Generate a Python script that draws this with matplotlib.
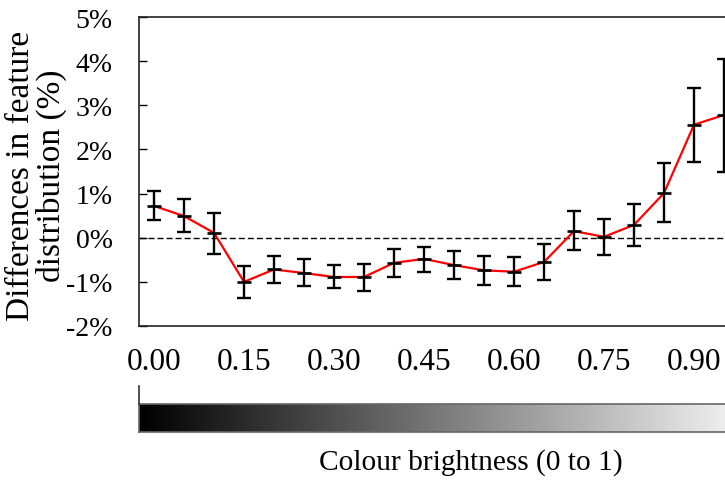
import numpy as np
import matplotlib
matplotlib.use("Agg")
import matplotlib.pyplot as plt
from matplotlib.lines import Line2D

plt.rcParams["font.family"] = ["Liberation Serif", "DejaVu Serif"]
plt.rcParams["font.size"] = 18

# brightness bins and differences (%) with error bar ends
brightness = [0.00, 0.05, 0.10, 0.15, 0.20, 0.25, 0.30, 0.35, 0.40, 0.45,
              0.50, 0.55, 0.60, 0.65, 0.70, 0.75, 0.80, 0.85, 0.90, 0.95]
diff = [0.72, 0.49, 0.11, -1.00, -0.72, -0.80, -0.89, -0.89, -0.57, -0.48,
        -0.62, -0.74, -0.77, -0.55, 0.15, 0.02, 0.29, 1.01, 2.56, 2.78]
err_low = [0.39, 0.14, -0.36, -1.37, -1.02, -1.10, -1.15, -1.21, -0.89, -0.77,
           -0.93, -1.07, -1.10, -0.96, -0.27, -0.39, -0.19, 0.36, 1.71, 1.48]
err_high = [1.05, 0.87, 0.55, -0.65, -0.41, -0.49, -0.62, -0.60, -0.26, -0.21,
            -0.31, -0.41, -0.44, -0.14, 0.60, 0.42, 0.76, 1.69, 3.39, 4.05]

xtick_vals = [0.00, 0.15, 0.30, 0.45, 0.60, 0.75, 0.90]
xtick_labels = ["0.00", "0.15", "0.30", "0.45", "0.60", "0.75", "0.90"]
ytick_vals = [-2, -1, 0, 1, 2, 3, 4, 5]
ytick_labels = ["-2%", "-1%", "0%", "1%", "2%", "3%", "4%", "5%"]

W, H = 725, 481
fig = plt.figure(figsize=(W / 100, H / 100), dpi=100)

# main axes runs past the right edge of the picture (cropped like the reference)
left, right = 139, 769
ax = fig.add_axes([left / W, (H - 327) / H, (right - left) / W, (327 - 18) / H])

x = np.array(brightness)
y = np.array(diff)
yerr = [y - np.array(err_low), np.array(err_high) - y]

ax.axhline(0, color="black", linestyle=(0, (4.3, 2.2)), linewidth=1.0, zorder=1)
ax.plot(x, y, color="red", linewidth=1.6, zorder=2)
ax.errorbar(x, y, yerr=yerr, fmt="none", ecolor="black", elinewidth=1.7,
            capsize=5, capthick=1.7, zorder=3)
ax.plot(x, y, linestyle="none", marker="_", markersize=10,
        markeredgewidth=1.9, color="black", zorder=4)

ax.set_xlim(-0.025, 1.025)
ax.set_ylim(-2, 5)
ax.set_xticks(xtick_vals)
ax.set_xticklabels(xtick_labels, fontsize=22.5)
ax.set_yticks(ytick_vals)
ax.set_yticklabels(ytick_labels, fontsize=20)
ax.tick_params(axis="x", length=0, pad=15)
ax.tick_params(axis="y", direction="in", length=6, width=1.0, pad=19)
for s in ax.spines.values():
    s.set_linewidth(1.2)
    s.set_color("#222222")

ax.set_ylabel("Differences in feature\ndistribution (%)", fontsize=24,
              linespacing=0.98)
ax.yaxis.set_label_coords(-0.114, 0.49)

# brightness gradient strip
gax = fig.add_axes([left / W, (H - 433) / H, (right - left) / W, (433 - 405) / H])
grad = np.linspace(0, 1, 512).reshape(1, -1)
gax.imshow(grad, cmap="gray", aspect="auto", extent=[-0.025, 1.025, 0, 1],
           vmin=0, vmax=1)
gax.set_xlim(-0.025, 1.025)
gax.set_xticks([])
gax.set_yticks([])
for s in gax.spines.values():
    s.set_color("#666666")
    s.set_linewidth(1.2)

fig.add_artist(Line2D([left / W, left / W], [(H - 405) / H, (H - 387) / H],
                      color="#333333", linewidth=1.2))

fig.text(471 / W, (H - 463) / H, "Colour brightness (0 to 1)",
         ha="center", va="center", fontsize=21.2)

fig.savefig("out.png", dpi=100)
